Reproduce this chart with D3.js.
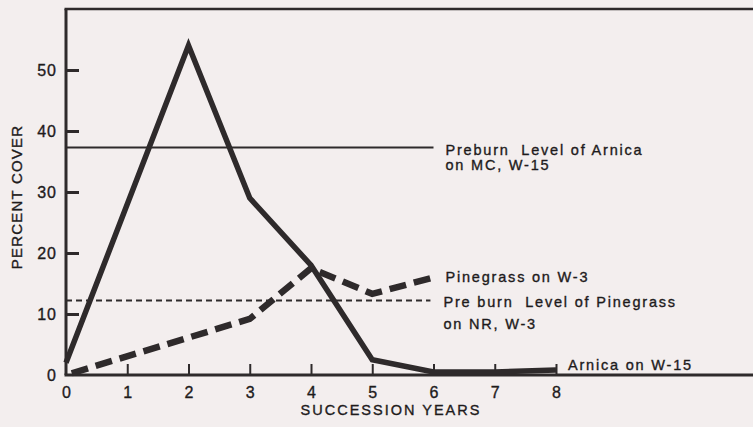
<!DOCTYPE html>
<html>
<head>
<meta charset="utf-8">
<script src="https://cdn.jsdelivr.net/npm/d3@7"></script>
<style>
  html, body { margin: 0; padding: 0; background: #f3eeee; }
  svg { display: block; }
  text { font-family: "Liberation Sans", Arial, Helvetica, sans-serif; fill: #1e1b1c; stroke: #1e1b1c; stroke-width: 0.35px; }
</style>
</head>
<body>
<svg id="chart" width="753" height="427"></svg>
<script>
// ---- data ----
const xTicks = [0, 1, 2, 3, 4, 5, 6, 7, 8];
const yTicks = [0, 10, 20, 30, 40, 50];

const arnicaYears = [0, 2, 3, 4, 5, 6, 7, 8];
const arnicaCover = [2, 54, 29, 18, 2.5, 0.5, 0.5, 0.8];

const pinegrassYears = [0, 3, 4, 5, 6];
const pinegrassCover = [0, 9.2, 17.5, 13.3, 16];

const preburnArnicaYears = [0, 6];
const preburnArnicaLevel = 37.3;
const preburnPinegrassYears = [0, 5.95];
const preburnPinegrassLevel = 12.2;

const labels = {
  arnicaPre: ["Preburn  Level of Arnica", "on MC, W-15"],
  pinePre: ["Pre burn  Level of Pinegrass", "on NR, W-3"],
  pine: "Pinegrass on W-3",
  arnica: "Arnica on W-15",
  xTitle: "SUCCESSION YEARS",
  yTitle: "PERCENT COVER"
};

// ---- layout ----
const svg = d3.select("#chart");
const ink = "#2e2a2b";
const x = d3.scaleLinear().domain([0, 8]).range([66, 556]);
const y = d3.scaleLinear().domain([0, 60]).range([375, 9]);
const xRight = 753;

// frame: left, top, bottom
svg.append("line").attr("x1", x(0)).attr("x2", x(0)).attr("y1", y(60)).attr("y2", y(0))
  .attr("stroke", ink).attr("stroke-width", 3);
svg.append("line").attr("x1", x(0) - 1.5).attr("x2", xRight).attr("y1", y(60)).attr("y2", y(60))
  .attr("stroke", ink).attr("stroke-width", 2.5);
svg.append("line").attr("x1", x(0) - 1.5).attr("x2", xRight).attr("y1", y(0)).attr("y2", y(0))
  .attr("stroke", ink).attr("stroke-width", 3);

// y axis
const yAxis = d3.axisLeft(y).tickValues(yTicks).tickSize(-13).tickPadding(9);
const gy = svg.append("g").attr("transform", `translate(${x(0)},0)`).call(yAxis);
gy.select(".domain").remove();
gy.selectAll(".tick line").attr("stroke", ink).attr("stroke-width", 3)
  .filter(d => d === 0).remove();
gy.selectAll(".tick text").attr("font-size", 16).attr("letter-spacing", 1).attr("fill", "#1e1b1c")
  .attr("font-family", "Liberation Sans, Arial, sans-serif");

// x axis
const xAxis = d3.axisBottom(x).tickValues(xTicks).tickSize(-11).tickPadding(12);
const gx = svg.append("g").attr("transform", `translate(0,${y(0)})`).call(xAxis);
gx.select(".domain").remove();
gx.selectAll(".tick line").attr("stroke", ink).attr("stroke-width", 2)
  .filter(d => d === 0).remove();
gx.selectAll(".tick text").attr("font-size", 16).attr("fill", "#1e1b1c")
  .attr("font-family", "Liberation Sans, Arial, sans-serif");

// preburn reference lines
svg.append("path")
  .datum(preburnArnicaYears)
  .attr("d", d3.line().x(d => x(d)).y(() => y(preburnArnicaLevel)))
  .attr("stroke", ink).attr("stroke-width", 2).attr("fill", "none");
svg.append("path")
  .datum(preburnPinegrassYears)
  .attr("d", d3.line().x(d => x(d)).y(() => y(preburnPinegrassLevel)))
  .attr("stroke", ink).attr("stroke-width", 2).attr("stroke-dasharray", "6,4").attr("fill", "none");

// pinegrass (thick dashed)
const pineData = pinegrassYears.map((d, i) => [d, pinegrassCover[i]]);
svg.append("path")
  .datum(pineData)
  .attr("d", d3.line().x(d => x(d[0])).y(d => y(d[1])))
  .attr("stroke", ink).attr("stroke-width", 6.5).attr("stroke-dasharray", "17,8")
  .attr("stroke-dashoffset", -6)
  .attr("fill", "none");

// arnica (thick solid)
const arnicaData = arnicaYears.map((d, i) => [d, arnicaCover[i]]);
svg.append("path")
  .datum(arnicaData)
  .attr("d", d3.line().x(d => x(d[0])).y(d => y(d[1])))
  .attr("stroke", ink).attr("stroke-width", 5.5).attr("stroke-linejoin", "miter")
  .attr("fill", "none");

// annotations
function label(lines, x0, yBase, lh) {
  const t = svg.append("text").attr("x", x0).attr("y", yBase)
    .attr("font-size", 14.5).attr("letter-spacing", 1.8).style("white-space", "pre");
  [].concat(lines).forEach((s, i) => {
    t.append("tspan").attr("x", x0).attr("y", yBase + i * lh).text(s);
  });
}
label(labels.arnicaPre, x(6) + 12, y(preburnArnicaLevel) + 8, 15);
label(labels.pine, x(6) + 12, y(pinegrassCover[4]) + 5, 15);
label(labels.pinePre, x(6) + 10, y(preburnPinegrassLevel) + 6, 22);
label(labels.arnica, x(8) + 12, y(0) - 5, 15);

// axis titles
svg.append("text").attr("x", 391).attr("y", 415).attr("text-anchor", "middle")
  .attr("font-size", 14.5).attr("letter-spacing", 2).text(labels.xTitle);
svg.append("text").attr("transform", "translate(22,197) rotate(-90)").attr("text-anchor", "middle")
  .attr("font-size", 15).attr("letter-spacing", 1.2).text(labels.yTitle);
</script>
</body>
</html>
